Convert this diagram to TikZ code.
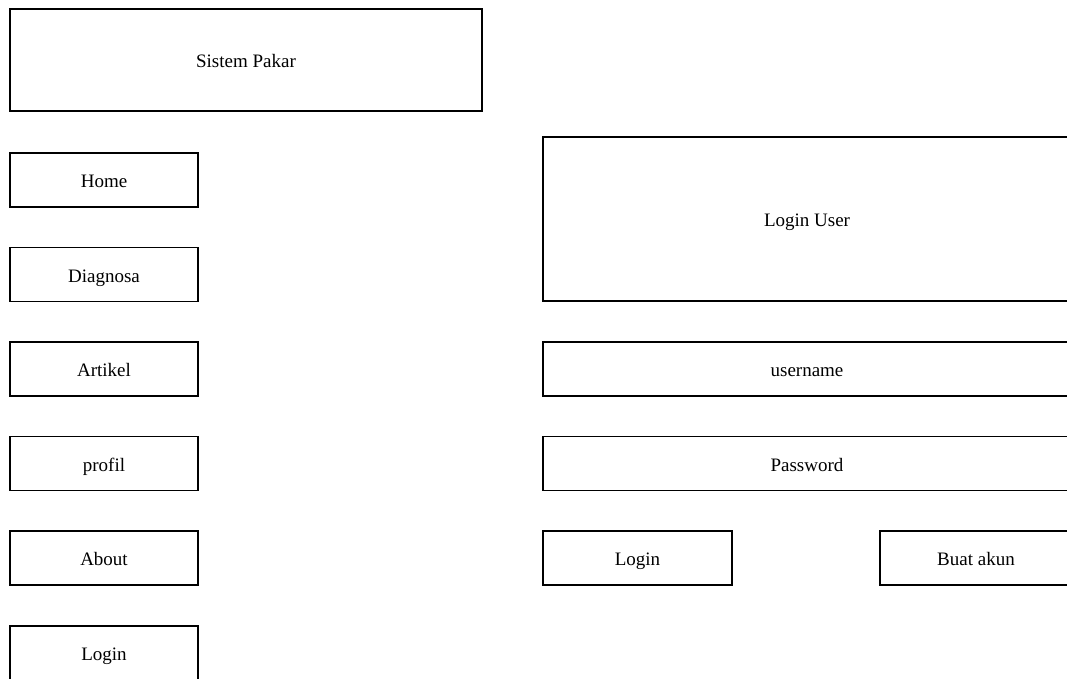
\documentclass[tikz,border=0pt]{standalone}
\usepackage{fontspec}
\setmainfont{Liberation Serif}
\begin{document}
\begin{tikzpicture}[x=1pt,y=-1pt,
  box/.style={draw, line width=1.1pt, inner sep=0pt, text height=16pt, text depth=1pt,
    font=\fontsize{19}{22}\selectfont},
  menu/.style={box, minimum width=188pt, minimum height=54pt},
  field/.style={box, minimum width=528pt, minimum height=54pt}]
\useasboundingbox (0,0) rectangle (1067,678);
\clip (0,0) rectangle (1067,678);
% header
\node[box, minimum width=472pt, minimum height=102pt] (title) at (246,60) {Sistem Pakar};
% navigation menu
\node[menu] (home) at (104,180) {Home};
\node[menu] (diag) at (104,274.5) {Diagnosa};
\node[menu] (art) at (104,369) {Artikel};
\node[menu] (prof) at (104,463.5) {profil};
\node[menu] (about) at (104,558) {About};
\node[menu] (login) at (104,653) {Login};
% login form
\node[box, minimum width=528pt, minimum height=164pt] (form) at (807,219) {Login User};
\node[field] (user) at (807,369) {username};
\node[field] (pass) at (807,463.5) {Password};
\node[box, minimum width=189pt, minimum height=54pt] (btnlogin) at (637.5,558) {Login};
\node[box, minimum width=192pt, minimum height=54pt] (btnakun) at (976,558) {Buat akun};
\end{tikzpicture}
\end{document}
